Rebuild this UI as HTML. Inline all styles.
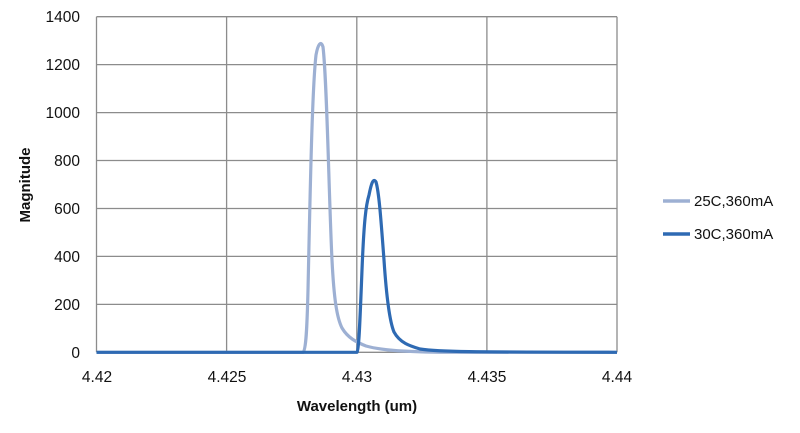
<!DOCTYPE html>
<html><head><meta charset="utf-8"><style>
body{margin:0;background:#fff;}
svg{display:block;font-family:"Liberation Sans",sans-serif;}
</style></head><body>
<svg width="800" height="433" viewBox="0 0 800 433">
<g stroke="#8c8c8c" stroke-width="1.3" fill="none">
<line x1="96.5" y1="16.7" x2="617" y2="16.7"/>
<line x1="96.5" y1="64.6" x2="617" y2="64.6"/>
<line x1="96.5" y1="112.6" x2="617" y2="112.6"/>
<line x1="96.5" y1="160.5" x2="617" y2="160.5"/>
<line x1="96.5" y1="208.5" x2="617" y2="208.5"/>
<line x1="96.5" y1="256.4" x2="617" y2="256.4"/>
<line x1="96.5" y1="304.4" x2="617" y2="304.4"/>
<line x1="96.5" y1="352.3" x2="617" y2="352.3"/>
<line x1="96.5" y1="16.7" x2="96.5" y2="352.3"/>
<line x1="226.6" y1="16.7" x2="226.6" y2="352.3"/>
<line x1="356.8" y1="16.7" x2="356.8" y2="352.3"/>
<line x1="486.9" y1="16.7" x2="486.9" y2="352.3"/>
<line x1="617" y1="16.7" x2="617" y2="352.3"/>
</g>
<g font-size="15.5" fill="#111" text-anchor="end">
<text x="80" y="22">1400</text><text x="80" y="70">1200</text><text x="80" y="118">1000</text>
<text x="80" y="166">800</text><text x="80" y="214">600</text><text x="80" y="262">400</text>
<text x="80" y="310">200</text><text x="80" y="358">0</text>
</g>
<g font-size="15.5" fill="#111" text-anchor="middle">
<text x="97" y="382">4.42</text><text x="227" y="382">4.425</text><text x="357" y="382">4.43</text>
<text x="487" y="382">4.435</text><text x="617" y="382">4.44</text>
</g>
<text x="357" y="411" font-size="15" font-weight="bold" text-anchor="middle" fill="#111">Wavelength (um)</text>
<text transform="translate(30,185) rotate(-90)" font-size="15" font-weight="bold" text-anchor="middle" fill="#111">Magnitude</text>
<path d="M96.5,352.3 L303,352.3 C306,350 307,330 308,290 C310,200 312,90 316,55 C318,44 321,40 323,47 C327,80 329,200 332,260 C334,300 337,318 342,328 C348,338 356,342 366,346 C380,350 400,351.5 440,352.3 L617,352.3" fill="none" stroke="#9db0d3" stroke-width="3.2" stroke-linejoin="round"/>
<path d="M96.5,352.3 L357,352.3 C359,350 360,320 362,270 C364,220 366,205 369,195 C371,185 373,177 376,182 C379,192 381,220 384,260 C386,290 389,320 394,332 C400,343 410,346 420,349 C440,352 470,352 617,352.3" fill="none" stroke="#2e6ab3" stroke-width="3.2" stroke-linejoin="round"/>
<line x1="663" y1="201" x2="690" y2="201" stroke="#9db0d3" stroke-width="3.5"/>
<line x1="663" y1="234" x2="690" y2="234" stroke="#2e6ab3" stroke-width="3.5"/>
<text x="694" y="206" font-size="15" fill="#111">25C,360mA</text>
<text x="694" y="239" font-size="15" fill="#111">30C,360mA</text>
</svg>
</body></html>
